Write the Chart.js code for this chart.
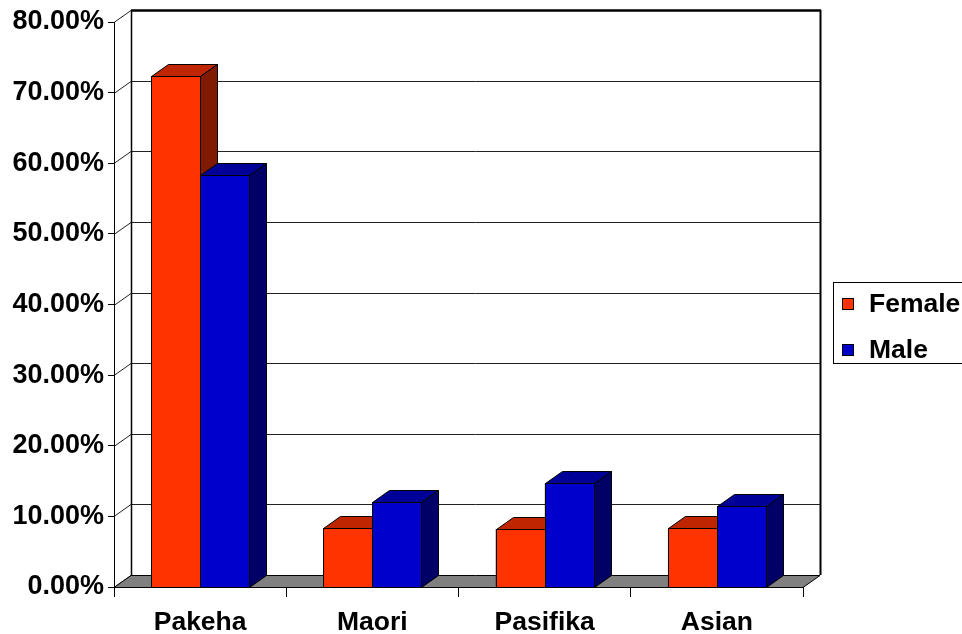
<!DOCTYPE html>
<html>
<head>
<meta charset="utf-8">
<script src="https://cdn.jsdelivr.net/npm/chart.js@4/dist/chart.umd.min.js"></script>
<style>
  html, body { margin: 0; padding: 0; background: #fff; overflow: hidden; }
  canvas { display: block; }
</style>
</head>
<body>
<canvas id="c" width="962" height="634"></canvas>
<script>
// Share of students by ethnicity, split by gender (percent)
const categories = ['Pakeha', 'Maori', 'Pasifika', 'Asian'];
const seriesNames = ['Female', 'Male'];
const femaleValues = [72.4, 8.3, 8.2, 8.3];
const maleValues = [58.3, 12.0, 14.7, 11.4];
const yMin = 0;
const yMax = 80;
const yStep = 10;

// Depth offset of the 3D box (back plane relative to front plane)
const DX = 17;
const DY = -12;
const FONT = '"Liberation Sans", Arial, Helvetica, sans-serif';

const faceColors = [
  { front: '#FF3300', top: '#BF2600', side: '#801A00' },
  { front: '#0000CC', top: '#000099', side: '#000066' }
];

function poly(ctx, pts, fill, stroke, lw) {
  ctx.beginPath();
  ctx.moveTo(pts[0][0], pts[0][1]);
  for (let i = 1; i < pts.length; i++) ctx.lineTo(pts[i][0], pts[i][1]);
  ctx.closePath();
  if (fill) { ctx.fillStyle = fill; ctx.fill(); }
  if (stroke) { ctx.strokeStyle = stroke; ctx.lineWidth = lw || 1; ctx.stroke(); }
}

function line(ctx, x1, y1, x2, y2, color, lw) {
  ctx.beginPath();
  ctx.moveTo(x1, y1);
  ctx.lineTo(x2, y2);
  ctx.strokeStyle = color;
  ctx.lineWidth = lw;
  ctx.stroke();
}

const box3d = {
  id: 'box3d',
  beforeDraw(chart) {
    const ctx = chart.ctx;
    const { left, right, top, bottom } = chart.chartArea;
    const ys = chart.scales.y;
    ctx.save();
    // walls
    poly(ctx, [[left, top], [left + DX, top + DY], [left + DX, bottom + DY], [left, bottom]], '#fff');
    poly(ctx, [[left + DX, top + DY], [right + DX, top + DY], [right + DX, bottom + DY], [left + DX, bottom + DY]], '#fff');
    // gridlines on the back wall and the left wall
    ys.ticks.forEach(t => {
      const py = Math.round(ys.getPixelForValue(t.value)) + 0.5;
      if (t.value > yMin && t.value < yMax) {
        line(ctx, left + DX, py + DY, right + DX, py + DY, '#222', 1);
      }
      line(ctx, left, py, left + DX, py + DY, '#222', 1);
    });
    // floor
    poly(ctx, [[left, bottom + 0.5], [left + DX, bottom + DY + 0.5], [right + DX, bottom + DY + 0.5], [right, bottom + 0.5]], '#808080', '#000', 1);
    // wall edges
    line(ctx, left + DX + 0.5, top + DY, left + DX + 0.5, bottom + DY, '#000', 1.5);
    line(ctx, left + DX, top + DY + 0.5, right + DX + 1, top + DY + 0.5, '#000', 2.5);
    line(ctx, right + DX + 0.5, top + DY, right + DX + 0.5, bottom + DY, '#000', 2);
    ctx.restore();
  },
  afterDatasetsDraw(chart) {
    const ctx = chart.ctx;
    ctx.save();
    chart.data.datasets.forEach((ds, i) => {
      const meta = chart.getDatasetMeta(i);
      const c = faceColors[i];
      meta.data.forEach(el => {
        const p = el.getProps(['x', 'y', 'base', 'width'], true);
        const L = Math.round(p.x - p.width / 2) + 0.5;
        const R = Math.round(p.x + p.width / 2) + 0.5;
        const T = Math.round(p.y) + 0.5;
        const B = Math.round(p.base) + 0.5;
        poly(ctx, [[L, T], [R, T], [R, B], [L, B]], c.front, '#000', 1);
        poly(ctx, [[L, T], [L + DX, T + DY], [R + DX, T + DY], [R, T]], c.top, '#000', 1);
        poly(ctx, [[R, T], [R + DX, T + DY], [R + DX, B + DY], [R, B]], c.side, '#000', 1);
      });
    });
    ctx.restore();
  },
  afterDraw(chart) {
    const ctx = chart.ctx;
    ctx.save();
    // legend
    ctx.fillStyle = '#fff';
    ctx.fillRect(833.5, 282.5, 140, 81);
    ctx.strokeStyle = '#000';
    ctx.lineWidth = 1;
    ctx.strokeRect(833.5, 282.5, 140, 81);
    ctx.font = 'bold 26.5px ' + FONT;
    ctx.textBaseline = 'middle';
    ctx.textAlign = 'left';
    chart.data.datasets.forEach((ds, i) => {
      const yy = 298 + i * 46;
      ctx.fillStyle = faceColors[i].front;
      ctx.fillRect(842.5, yy + 0.5, 11, 11);
      ctx.strokeRect(842.5, yy + 0.5, 11, 11);
      ctx.fillStyle = '#000';
      ctx.fillText(ds.label, 869, yy + 7);
    });
    ctx.restore();
  }
};

new Chart(document.getElementById('c'), {
  type: 'bar',
  data: {
    labels: categories,
    datasets: [
      { label: seriesNames[0], data: femaleValues, backgroundColor: faceColors[0].front, borderColor: '#000', borderWidth: 1, borderSkipped: false },
      { label: seriesNames[1], data: maleValues, backgroundColor: faceColors[1].front, borderColor: '#000', borderWidth: 1, borderSkipped: false }
    ]
  },
  options: {
    responsive: false,
    animation: false,
    devicePixelRatio: 1,
    layout: { padding: { top: 22, right: 159, left: 0, bottom: 0 } },
    datasets: { bar: { barPercentage: 1, categoryPercentage: 0.57 } },
    plugins: { legend: { display: false }, tooltip: { enabled: false } },
    scales: {
      x: {
        offset: true,
        grid: { display: true, drawOnChartArea: false, drawTicks: true, tickLength: 10, offset: true, color: '#000', lineWidth: 1 },
        border: { display: true, color: '#000', width: 1 },
        ticks: { color: '#000', font: { family: FONT, size: 26.5, weight: 'bold' }, padding: 10, maxRotation: 0, autoSkip: false },
        afterFit(s) { s.height = 47; }
      },
      y: {
        min: yMin,
        max: yMax,
        ticks: {
          stepSize: yStep,
          color: '#000',
          font: { family: FONT, size: 27, weight: 'bold' },
          padding: 4,
          callback: v => v.toFixed(2) + '%'
        },
        grid: { display: true, drawOnChartArea: false, drawTicks: true, tickLength: 6, color: '#000' },
        border: { display: true, color: '#000', width: 1 },
        afterFit(s) { s.width = 114; }
      }
    }
  },
  plugins: [box3d]
});
</script>
</body>
</html>
